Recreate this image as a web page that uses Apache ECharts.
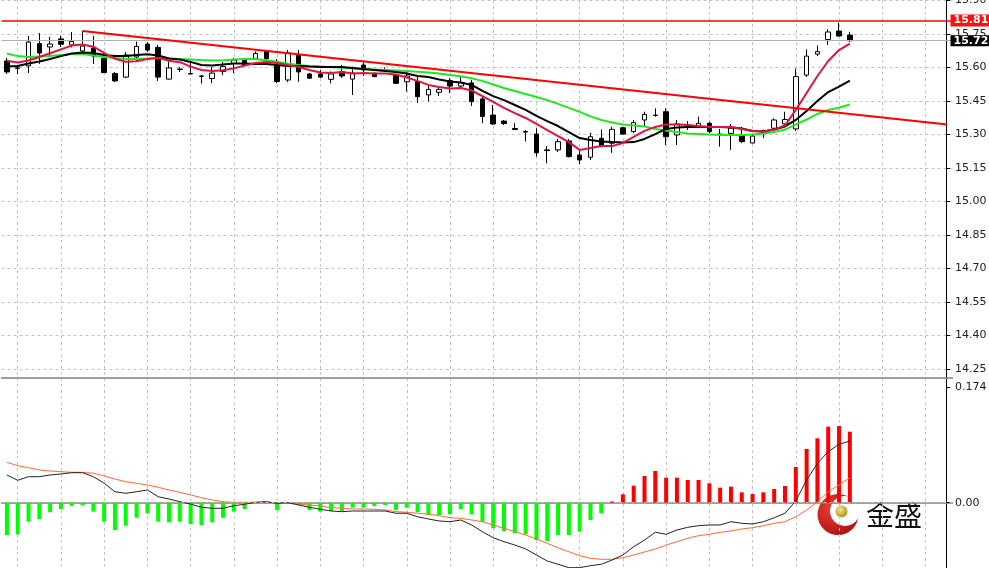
<!DOCTYPE html>
<html><head><meta charset="utf-8">
<script src="https://cdn.jsdelivr.net/npm/echarts@6/dist/echarts.min.js"></script>
<style>html,body{margin:0;padding:0;background:#fff}#c{width:989px;height:568px}</style>
</head><body><div id="c"></div>
<script>
// ---- DATA ----
// 79 candles + 9 empty right-shift slots (MT4 chart shift)
const categories = Array.from({length: 88}, (_, i) => 'B' + (i + 1));

// [open, close, low, high]
const candles = [
[15.629,15.580,15.571,15.643],[15.596,15.598,15.571,15.611],[15.607,15.714,15.575,15.741],[15.707,15.665,15.616,15.754],
[15.692,15.705,15.651,15.737],[15.728,15.704,15.692,15.743],[15.701,15.716,15.690,15.759],[15.674,15.696,15.669,15.763],
[15.687,15.651,15.616,15.741],[15.640,15.577,15.575,15.665],[15.573,15.540,15.535,15.580],[15.557,15.656,15.553,15.669],
[15.647,15.694,15.629,15.716],[15.705,15.678,15.669,15.714],[15.690,15.557,15.540,15.701],[15.548,15.598,15.546,15.627],
[15.591,15.593,15.580,15.602],[15.571,15.573,15.569,15.627],[15.560,15.562,15.528,15.566],[15.551,15.575,15.529,15.602],
[15.582,15.604,15.566,15.624],[15.618,15.633,15.575,15.643],[15.631,15.611,15.607,15.643],[15.641,15.663,15.633,15.672],
[15.674,15.640,15.633,15.678],[15.611,15.537,15.530,15.638],[15.544,15.665,15.535,15.678],[15.656,15.580,15.536,15.678],
[15.571,15.552,15.551,15.575],[15.571,15.557,15.553,15.589],[15.547,15.571,15.529,15.582],[15.582,15.562,15.553,15.611],
[15.548,15.575,15.477,15.604],[15.611,15.589,15.562,15.624],[15.574,15.559,15.557,15.578],[15.589,15.591,15.580,15.600],
[15.566,15.529,15.528,15.571],[15.536,15.562,15.492,15.582],[15.537,15.469,15.441,15.560],[15.477,15.502,15.448,15.517],
[15.489,15.502,15.472,15.517],[15.541,15.517,15.486,15.552],[15.517,15.532,15.513,15.559],[15.531,15.447,15.428,15.544],
[15.459,15.381,15.351,15.472],[15.387,15.347,15.343,15.432],[15.360,15.349,15.343,15.365],[15.327,15.322,15.320,15.351],
[15.313,15.311,15.269,15.320],[15.302,15.218,15.201,15.328],[15.231,15.228,15.171,15.248],[15.231,15.268,15.222,15.280],
[15.271,15.201,15.197,15.280],[15.208,15.186,15.168,15.227],[15.198,15.290,15.186,15.308],[15.283,15.248,15.243,15.323],
[15.261,15.323,15.218,15.335],[15.330,15.302,15.298,15.334],[15.313,15.353,15.307,15.365],[15.365,15.390,15.335,15.402],
[15.385,15.387,15.380,15.417],[15.402,15.290,15.253,15.417],[15.298,15.347,15.253,15.365],[15.334,15.342,15.320,15.360],
[15.334,15.350,15.328,15.380],[15.350,15.313,15.307,15.357],[15.302,15.300,15.246,15.325],[15.305,15.329,15.231,15.347],
[15.298,15.268,15.261,15.334],[15.262,15.293,15.260,15.298],[15.304,15.318,15.284,15.322],[15.328,15.365,15.320,15.372],
[15.347,15.367,15.335,15.402],[15.325,15.559,15.316,15.595],[15.566,15.651,15.557,15.681],[15.660,15.671,15.651,15.698],
[15.725,15.759,15.701,15.771],[15.763,15.741,15.738,15.801],[15.745,15.720,15.715,15.760]
];

const maFast = [15.630,15.622,15.631,15.647,15.664,15.681,15.698,15.703,15.693,15.665,
15.639,15.626,15.628,15.638,15.643,15.630,15.624,15.604,15.589,15.584,
15.588,15.596,15.609,15.620,15.625,15.620,15.611,15.602,15.589,15.578,
15.575,15.580,15.573,15.575,15.573,15.573,15.569,15.555,15.540,15.522,
15.513,15.506,15.508,15.497,15.472,15.446,15.419,15.396,15.374,15.347,
15.320,15.293,15.266,15.231,15.240,15.248,15.248,15.262,15.289,15.316,
15.334,15.345,15.345,15.342,15.338,15.334,15.334,15.334,15.325,15.316,
15.313,15.322,15.340,15.410,15.486,15.562,15.629,15.678,15.707];

const maMid = [15.604,15.607,15.618,15.627,15.638,15.651,15.663,15.667,15.665,15.656,
15.651,15.651,15.656,15.659,15.654,15.640,15.636,15.625,15.611,15.609,
15.613,15.618,15.618,15.616,15.616,15.611,15.607,15.607,15.604,15.602,
15.602,15.602,15.598,15.593,15.589,15.584,15.580,15.573,15.562,15.557,
15.546,15.537,15.533,15.522,15.495,15.472,15.454,15.432,15.410,15.383,
15.360,15.338,15.311,15.284,15.275,15.269,15.266,15.264,15.266,15.280,
15.302,15.325,15.331,15.334,15.334,15.334,15.334,15.331,15.327,15.316,
15.313,15.322,15.336,15.365,15.405,15.450,15.490,15.514,15.541];

const maSlow = [15.663,15.651,15.647,15.649,15.651,15.656,15.660,15.660,15.654,15.647,
15.643,15.638,15.638,15.640,15.643,15.640,15.638,15.636,15.633,15.631,
15.631,15.636,15.638,15.638,15.632,15.626,15.617,15.611,15.607,15.604,
15.601,15.599,15.595,15.593,15.591,15.589,15.587,15.584,15.581,15.578,
15.573,15.566,15.561,15.552,15.540,15.524,15.508,15.495,15.481,15.468,
15.454,15.437,15.419,15.401,15.381,15.365,15.354,15.345,15.340,15.336,
15.325,15.318,15.311,15.304,15.302,15.300,15.298,15.298,15.298,15.300,
15.304,15.311,15.322,15.345,15.367,15.392,15.410,15.420,15.434];

const macdHist = [-0.0486,-0.0475,-0.0286,-0.0245,-0.0144,-0.0095,-0.0050,-0.0042,-0.0135,-0.0286,
-0.0411,-0.0346,-0.0226,-0.0159,-0.0286,-0.0295,-0.0286,-0.0320,-0.0335,-0.0295,
-0.0226,-0.0135,-0.0095,-0.0015,0.0008,-0.0110,-0.0015,-0.0030,-0.0110,-0.0135,
-0.0125,-0.0135,-0.0075,-0.0075,-0.0050,-0.0035,-0.0110,-0.0075,-0.0144,-0.0185,
-0.0185,-0.0174,-0.0095,-0.0174,-0.0286,-0.0385,-0.0426,-0.0460,-0.0475,-0.0561,
-0.0576,-0.0486,-0.0486,-0.0436,-0.0260,-0.0159,0.0018,0.0126,0.0256,0.0402,
0.0477,0.0376,0.0376,0.0341,0.0341,0.0292,0.0226,0.0241,0.0156,0.0131,
0.0156,0.0206,0.0251,0.0537,0.0808,0.0968,0.1143,0.1153,0.1068];

const macdDif = [0.0417,0.0337,0.0391,0.0391,0.0417,0.0432,0.0451,0.0451,0.0391,0.0292,
0.0165,0.0141,0.0165,0.0191,0.0090,0.0056,0.0015,-0.0020,-0.0069,-0.0084,
-0.0084,-0.0045,-0.0024,0.0006,0.0015,-0.0009,0.0000,-0.0035,-0.0069,-0.0099,
-0.0125,-0.0135,-0.0125,-0.0125,-0.0125,-0.0125,-0.0159,-0.0159,-0.0211,-0.0245,
-0.0275,-0.0286,-0.0260,-0.0335,-0.0436,-0.0526,-0.0586,-0.0636,-0.0696,-0.0786,
-0.0877,-0.0926,-0.0977,-0.0977,-0.0947,-0.0926,-0.0862,-0.0786,-0.0662,-0.0561,
-0.0445,-0.0475,-0.0411,-0.0370,-0.0346,-0.0335,-0.0335,-0.0286,-0.0310,-0.0320,
-0.0286,-0.0226,-0.0159,0.0026,0.0341,0.0592,0.0767,0.0878,0.0928];

const macdDea = [0.0608,0.0556,0.0526,0.0492,0.0477,0.0466,0.0457,0.0457,0.0442,0.0402,
0.0356,0.0316,0.0292,0.0266,0.0232,0.0191,0.0156,0.0116,0.0075,0.0041,
0.0015,0.0006,0.0006,0.0006,0.0006,0.0000,0.0000,-0.0020,-0.0035,-0.0050,
-0.0075,-0.0084,-0.0095,-0.0095,-0.0099,-0.0110,-0.0135,-0.0144,-0.0159,-0.0174,
-0.0195,-0.0226,-0.0235,-0.0260,-0.0286,-0.0335,-0.0385,-0.0436,-0.0486,-0.0546,
-0.0611,-0.0677,-0.0737,-0.0797,-0.0836,-0.0851,-0.0851,-0.0827,-0.0786,-0.0741,
-0.0696,-0.0636,-0.0586,-0.0535,-0.0496,-0.0475,-0.0445,-0.0426,-0.0395,-0.0376,
-0.0346,-0.0310,-0.0286,-0.0211,-0.0110,0.0015,0.0165,0.0266,0.0376];

const priceTicks = [14.25,14.40,14.55,14.70,14.85,15.00,15.15,15.30,15.45,15.60,15.75,15.90];
const macdTicks = [0, 0.174];
const resistanceLevel = 15.81;
const lastPrice = 15.72;
const trendStart = [7, 15.763];
const trendEnd = [87, 15.345];
const logoText = '金盛';

// ---- CHART ----
const chart = echarts.init(document.getElementById('c'), null, {renderer: 'canvas'});
const gridLine = {color: '#c4c4c4', type: [3, 3], width: 1};
const labelFont = {fontFamily: 'DejaVu Sans', fontSize: 11, color: '#222'};

const option = {
  animation: false,
  backgroundColor: '#ffffff',
  grid: [
    {left: 1.5, width: 951, top: 0, height: 378, outerBoundsMode: 'none', containLabel: false},
    {left: 1.5, width: 951, top: 381, height: 187, outerBoundsMode: 'none', containLabel: false},
    {left: 17.7, width: 907.8, top: 0, height: 568, outerBoundsMode: 'none', containLabel: false}
  ],
  xAxis: [
    {gridIndex: 0, type: 'category', data: categories, boundaryGap: true,
     axisLine: {show: true, lineStyle: {color: '#808080', width: 1.5}}, axisTick: {show: false}, axisLabel: {show: false}, splitLine: {show: false}},
    {gridIndex: 1, type: 'category', data: categories, boundaryGap: true, position: 'top',
     axisLine: {show: true, lineStyle: {color: '#808080', width: 1.5}}, axisTick: {show: false}, axisLabel: {show: false}, splitLine: {show: false}},
    {gridIndex: 2, type: 'value', min: 0, max: 84, interval: 4,
     axisLine: {show: false}, axisTick: {show: false}, axisLabel: {show: false},
     splitLine: {show: true, lineStyle: gridLine}}
  ],
  yAxis: [
    {gridIndex: 0, type: 'value', position: 'right', offset: -6.5, min: 14.2097, max: 15.9022, scale: true,
     axisLine: {show: true, onZero: false, lineStyle: {color: '#000', width: 1}},
     axisTick: {show: true, customValues: priceTicks, length: 4, lineStyle: {color: '#000'}},
     axisLabel: Object.assign({customValues: priceTicks, margin: 9, formatter: v => v.toFixed(2)}, labelFont),
     splitLine: {show: true, lineStyle: gridLine}},
    {gridIndex: 1, type: 'value', position: 'right', offset: -6.5, min: -0.0982, max: 0.183, scale: true,
     axisLine: {show: true, onZero: false, lineStyle: {color: '#000', width: 1}},
     axisTick: {show: true, customValues: macdTicks, length: 4, lineStyle: {color: '#000'}},
     axisLabel: Object.assign({customValues: macdTicks, margin: 9, formatter: v => (v === 0 ? '0.00' : v.toFixed(3))}, labelFont),
     splitLine: {show: false}},
    {gridIndex: 2, type: 'value', position: 'right', offset: 20.5, min: 0, max: 1,
     axisLine: {show: true, onZero: false, lineStyle: {color: '#000', width: 1}}, axisTick: {show: false}, axisLabel: {show: false}, splitLine: {show: false}}
  ],
  series: [
    {type: 'candlestick', xAxisIndex: 0, yAxisIndex: 0, data: candles, barWidth: 5, z: 2,
     itemStyle: {color: '#ffffff', color0: '#000000', borderColor: '#000000', borderColor0: '#000000', borderWidth: 1},
     markLine: {silent: true, symbol: ['none', 'none'], animation: false, z: 10,
       data: [
         {yAxis: resistanceLevel, lineStyle: {color: '#ff0000', width: 1.5, type: 'solid'},
          label: {show: true, position: 'end', distance: -2, formatter: p => p.value.toFixed(2), backgroundColor: '#ff1010', color: '#fff',
                  fontFamily: 'DejaVu Sans', fontSize: 11, fontWeight: 'bold', padding: [1, 3, 0, 3]}},
         {yAxis: lastPrice, lineStyle: {color: '#b0b0b0', width: 1, type: 'solid'},
          label: {show: true, position: 'end', distance: -2, formatter: p => p.value.toFixed(2), backgroundColor: '#000', color: '#fff',
                  fontFamily: 'DejaVu Sans', fontSize: 11, fontWeight: 'bold', padding: [0, 3, 0, 3]}},
         [{coord: trendStart, lineStyle: {color: '#ff0000', width: 2, type: 'solid'}, label: {show: false}},
          {coord: trendEnd, lineStyle: {color: '#ff0000', width: 2, type: 'solid'}, label: {show: false}}]
       ]}},
    {type: 'line', xAxisIndex: 0, yAxisIndex: 0, data: maSlow, symbol: 'none', z: 3, lineStyle: {color: '#22e622', width: 2}},
    {type: 'line', xAxisIndex: 0, yAxisIndex: 0, data: maMid, symbol: 'none', z: 3, lineStyle: {color: '#000000', width: 2}},
    {type: 'line', xAxisIndex: 0, yAxisIndex: 0, data: maFast, symbol: 'none', z: 4, lineStyle: {color: '#e0143c', width: 2}},
    {type: 'bar', xAxisIndex: 1, yAxisIndex: 1, data: macdHist, barWidth: 4, z: 2,
     itemStyle: {color: p => (p.value >= 0 ? '#ff0000' : '#00ff00')},
     markLine: {silent: true, symbol: ['none', 'none'], animation: false, label: {show: false},
       data: [{yAxis: 0, lineStyle: {color: '#b4b4b4', type: [3, 3], width: 1}}]}},
    {type: 'line', xAxisIndex: 1, yAxisIndex: 1, data: macdDea, symbol: 'none', z: 3, lineStyle: {color: '#ff6a33', width: 1}},
    {type: 'line', xAxisIndex: 1, yAxisIndex: 1, data: macdDif, symbol: 'none', z: 3, lineStyle: {color: '#222222', width: 1}}
  ],
  graphic: [
    {type: 'group', z: 100, children: [
      {type: 'circle', shape: {cx: 838, cy: 514.5, r: 20.5},
       style: {fill: {type: 'radial', x: 0.35, y: 0.35, r: 0.8, colorStops: [{offset: 0, color: '#f03a30'}, {offset: 1, color: '#a40e12'}]}}},
      {type: 'circle', shape: {cx: 845, cy: 511, r: 15}, style: {fill: '#ffffff'}},
      {type: 'circle', shape: {cx: 841.5, cy: 511.5, r: 6},
       style: {fill: {type: 'radial', x: 0.4, y: 0.35, r: 0.7, colorStops: [{offset: 0, color: '#f7e48a'}, {offset: 1, color: '#b08a18'}]}}},
      {type: 'text', x: 866, y: 515, style: {text: logoText, fontFamily: 'Noto Sans CJK SC', fontSize: 28, fill: '#111', verticalAlign: 'middle', align: 'left'}}
    ]}
  ]
};
chart.setOption(option);
</script>
</body></html>
